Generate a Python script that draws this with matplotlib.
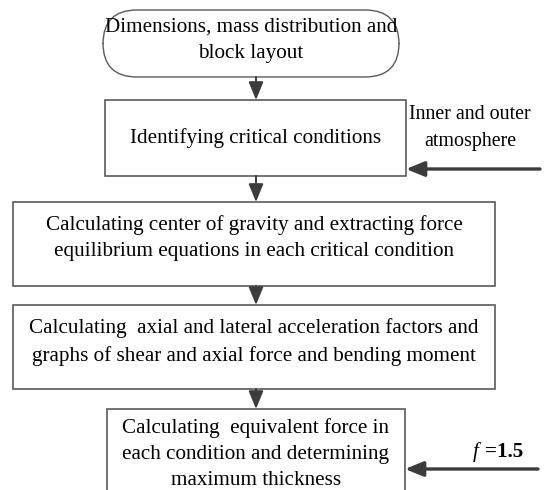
import matplotlib.pyplot as plt
from matplotlib.patches import FancyBboxPatch, Rectangle

plt.rcParams['font.family'] = ['Liberation Serif', 'DejaVu Serif']

steps = [
    "Dimensions, mass distribution and\nblock layout",
    "Identifying critical conditions",
    "Calculating center of gravity and extracting force\nequilibrium equations in each critical condition",
    "Calculating  axial and lateral acceleration factors and\ngraphs of shear and axial force and bending moment",
    "Calculating  equivalent force in\neach condition and determining\nmaximum thickness",
]
side_inputs = ["Inner and outer\natmosphere", "=1.5"]

# box geometry in pixel units (x0, y0, x1, y1)
boxes = [
    (103, 10, 399, 77),
    (105, 100, 406, 176),
    (13, 202, 495, 286),
    (13, 305, 495, 389),
    (107, 409, 405, 500),
]
text_y = [40, 138, 238, 342, 454]

fig = plt.figure(figsize=(5.49, 4.90), dpi=100)
ax = fig.add_axes([0, 0, 1, 1])
ax.set_xlim(0, 549)
ax.set_ylim(490, 0)
ax.axis('off')

edge = '#5a5a5a'
arrow_c = '#3c3c3c'
fs = 15.2
ls = 1.52
head = '-|>,head_length=1.1,head_width=0.45'

for i, (x0, y0, x1, y1) in enumerate(boxes):
    if i == 0:
        p = FancyBboxPatch((x0, y0), x1 - x0, y1 - y0,
                           boxstyle="round,pad=0,rounding_size=34",
                           fc='white', ec=edge, lw=1.0)
    else:
        p = Rectangle((x0, y0), x1 - x0, y1 - y0, fc='white', ec=edge, lw=1.2)
    ax.add_patch(p)
    ax.text((x0 + x1) / 2, text_y[i], steps[i], ha='center', va='center',
            fontsize=fs, linespacing=ls)

# vertical arrows between the steps
ax_x = 256
for a, b in zip(boxes[:-1], boxes[1:]):
    ax.annotate('', xy=(ax_x, b[1]), xytext=(ax_x, a[3]),
                arrowprops=dict(arrowstyle=head, color=arrow_c, lw=1.4,
                                shrinkA=0, shrinkB=0))

# side inputs
ax.annotate('', xy=(406, 169), xytext=(540, 169),
            arrowprops=dict(arrowstyle=head, color=arrow_c, lw=2.4,
                            shrinkA=0, shrinkB=0))
ax.text(470, 128, side_inputs[0], ha='center', va='center', fontsize=14.4,
        linespacing=ls)

ax.annotate('', xy=(405, 469), xytext=(538, 469),
            arrowprops=dict(arrowstyle=head, color=arrow_c, lw=2.4,
                            shrinkA=0, shrinkB=0))
ax.text(479, 452, "f", ha='right', va='center', fontsize=fs, style='italic')
ax.text(485, 452, side_inputs[1], ha='left', va='center', fontsize=fs,
        fontweight='bold')

fig.savefig('out.png', dpi=100)
